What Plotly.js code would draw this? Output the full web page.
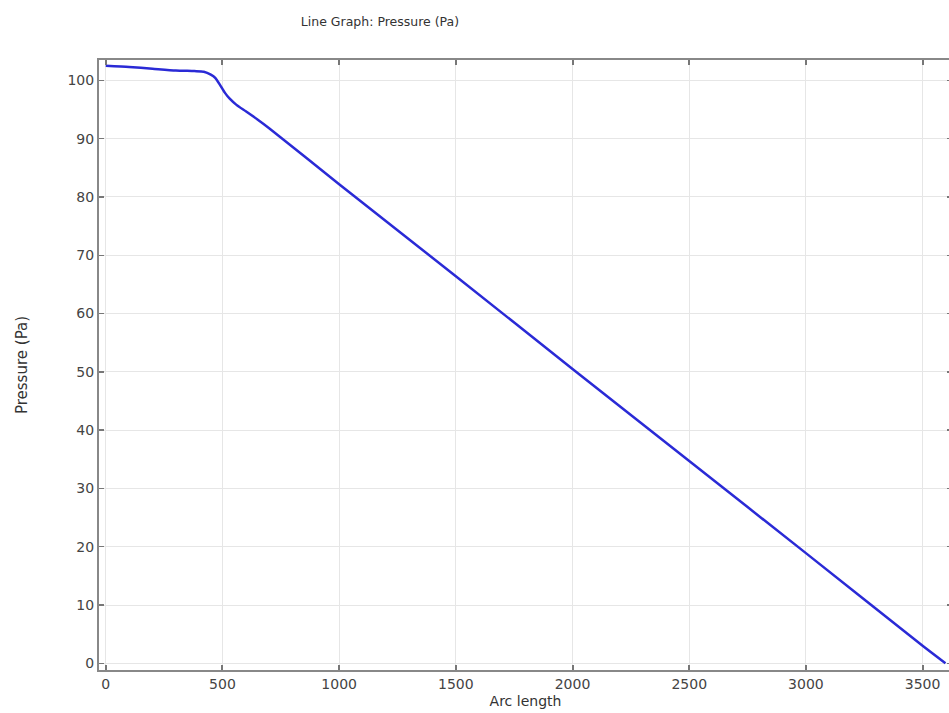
<!DOCTYPE html>
<html>
<head>
<meta charset="utf-8">
<script src="https://cdn.plot.ly/plotly-3.0.1.min.js"></script>
<style>html,body{margin:0;padding:0;background:#fff;overflow:hidden;}#chart{width:949px;height:713px;overflow:hidden;}</style>
</head>
<body>
<div id="chart"></div>
<script>
const arcLength = [0, 100, 200, 300, 380, 420, 450, 470, 490, 510, 530, 560, 600, 650, 700, 1000, 1500, 2000, 2500, 3000, 3500, 3598];
const pressure = [102.5, 102.3, 102.0, 101.7, 101.6, 101.5, 101.0, 100.4, 99.2, 97.9, 96.9, 95.8, 94.7, 93.3, 91.8, 82.2, 66.4, 50.5, 34.7, 18.9, 3.0, 0.0];
const xTicks = [0, 500, 1000, 1500, 2000, 2500, 3000, 3500];
const yTicks = [0, 10, 20, 30, 40, 50, 60, 70, 80, 90, 100];

const fontFam = '"DejaVu Sans", sans-serif';
Plotly.newPlot('chart', [{
  x: arcLength, y: pressure, type: 'scatter', mode: 'lines',
  line: {color: '#2a2ad6', width: 2.5, shape: 'spline', smoothing: 0.6},
  hoverinfo: 'skip'
}], {
  width: 952, height: 713,
  margin: {l: 99, r: 0, t: 60, b: 43},
  paper_bgcolor: '#fff', plot_bgcolor: '#fff',
  showlegend: false,
  title: {text: 'Line Graph: Pressure (Pa)', x: 0.316, xanchor: 'left', y: 0.969, yanchor: 'middle',
          font: {family: fontFam, size: 12.5, color: '#333'}},
  xaxis: {
    range: [-29, 3626], tickvals: xTicks, ticktext: xTicks.map(String),
    ticks: 'inside', ticklen: 5, tickwidth: 2, tickcolor: '#777',
    showline: true, linecolor: '#888', linewidth: 2, mirror: 'ticks',
    showgrid: true, gridcolor: '#e6e6e6', gridwidth: 1, zeroline: false,
    tickfont: {family: fontFam, size: 14, color: '#444'},
    title: {text: 'Arc length', standoff: 5, font: {family: fontFam, size: 14, color: '#333'}}
  },
  yaxis: {
    range: [-1.15, 103.5], tickvals: yTicks, ticktext: yTicks.map(String),
    ticks: 'inside', ticklen: 5, tickwidth: 1.5, tickcolor: '#777',
    showline: true, linecolor: '#888', linewidth: 2, mirror: 'ticks',
    showgrid: true, gridcolor: '#e6e6e6', gridwidth: 1, zeroline: false,
    tickfont: {family: fontFam, size: 14, color: '#444'},
    title: {text: 'Pressure (Pa)', standoff: 36, font: {family: fontFam, size: 15, color: '#333'}}
  }
}, {displayModeBar: false, staticPlot: true});
</script>
</body>
</html>
